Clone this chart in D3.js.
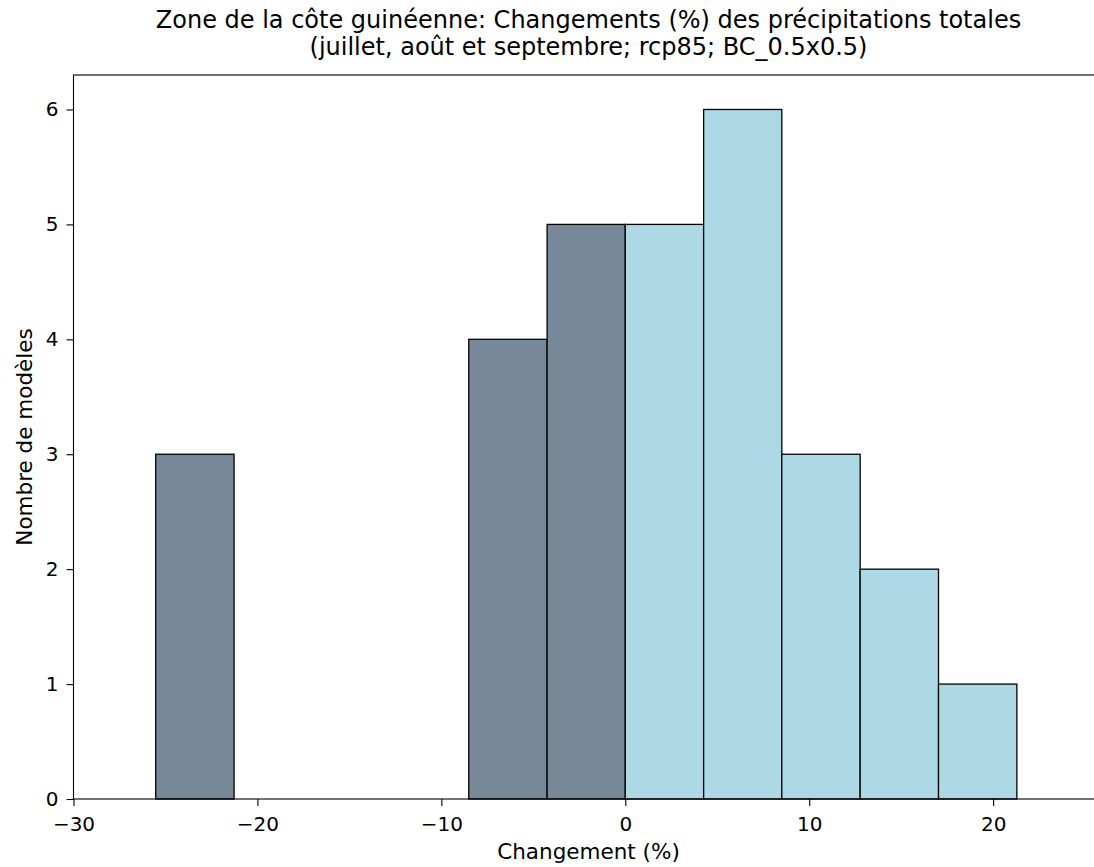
<!DOCTYPE html>
<html>
<head>
<meta charset="utf-8">
<script src="https://cdn.jsdelivr.net/npm/d3@7"></script>
<style>
  body { margin: 0; background: #fff; }
  text { font-family: "DejaVu Sans", sans-serif; fill: #000; }
</style>
</head>
<body>
<div id="wrapper"></div>
<script>
// histogram bins (model counts per bin of % change)
const binEdges = [-25.53, -21.27, -17.02, -12.76, -8.51, -4.25, 0.0, 4.26, 8.51, 12.77, 17.03, 21.29];
const binCounts = [3, 0, 0, 0, 4, 5, 5, 6, 3, 2, 1];
const xTicks = [-30, -20, -10, 0, 10, 20];
const yTicks = [0, 1, 2, 3, 4, 5, 6];
const titleLines = [
  "Zone de la côte guinéenne: Changements (%) des précipitations totales",
  "(juillet, août et septembre; rcp85; BC_0.5x0.5)"
];

function drawHist() {
  const width = 1094;
  const height = 867;
  const margin = { top: 75, left: 73.5, right: -9.5, bottom: 68 };
  const boundedWidth = width - margin.left - margin.right;
  const boundedHeight = height - margin.top - margin.bottom;

  const bins = binCounts.map((c, i) => ({ x0: binEdges[i], x1: binEdges[i + 1], count: c }));

  const svg = d3.select("#wrapper")
    .append("svg")
      .attr("width", width)
      .attr("height", height);

  const bounds = svg.append("g")
      .attr("transform", `translate(${margin.left},${margin.top})`);

  const xScale = d3.scaleLinear()
    .domain([-30, 26])
    .range([0, boundedWidth]);

  const yScale = d3.scaleLinear()
    .domain([0, 6.3])
    .range([boundedHeight, 0]);

  // bars
  bounds.selectAll(".bar")
    .data(bins.filter(d => d.count > 0))
    .join("rect")
      .attr("class", "bar")
      .attr("x", d => xScale(d.x0))
      .attr("y", d => yScale(d.count))
      .attr("width", d => xScale(d.x1) - xScale(d.x0))
      .attr("height", d => yScale(0) - yScale(d.count))
      .attr("fill", d => d.x0 < 0 ? "#778899" : "#add8e6")
      .attr("stroke", "#000")
      .attr("stroke-width", 1.3);

  // axes
  const xAxis = bounds.append("g")
      .attr("transform", `translate(0,${boundedHeight})`)
      .call(d3.axisBottom(xScale).tickValues(xTicks).tickSize(7).tickPadding(11)
        .tickFormat(d => d < 0 ? "\u2212" + Math.abs(d) : d));

  const yAxis = bounds.append("g")
      .call(d3.axisLeft(yScale).tickValues(yTicks).tickSize(7).tickPadding(8)
        .tickFormat(d3.format("d")));

  [xAxis, yAxis].forEach(a => {
    a.attr("font-size", null).attr("font-family", null);
    a.select(".domain").remove();
    a.selectAll("line").attr("stroke", "#000").attr("stroke-width", 1.1);
    a.selectAll("text").style("font-size", "20px").style("font-family", "DejaVu Sans, sans-serif");
  });

  // spines
  bounds.append("rect")
      .attr("x", 0)
      .attr("y", 0)
      .attr("width", boundedWidth)
      .attr("height", boundedHeight)
      .attr("fill", "none")
      .attr("stroke", "#000")
      .attr("stroke-width", 1.1);

  // labels
  svg.append("text")
      .attr("x", margin.left + boundedWidth / 2)
      .attr("y", 859)
      .attr("text-anchor", "middle")
      .style("font-size", "21.5px")
      .text("Changement (%)");

  svg.append("text")
      .attr("transform", `translate(32,${margin.top + boundedHeight / 2}) rotate(-90)`)
      .attr("text-anchor", "middle")
      .style("font-size", "21.5px")
      .text("Nombre de modèles");

  svg.selectAll(".title")
    .data(titleLines)
    .join("text")
      .attr("class", "title")
      .attr("x", margin.left + boundedWidth / 2)
      .attr("y", (d, i) => 28 + i * 27)
      .attr("text-anchor", "middle")
      .style("font-size", "24px")
      .text(d => d);
}
drawHist();
</script>
</body>
</html>
